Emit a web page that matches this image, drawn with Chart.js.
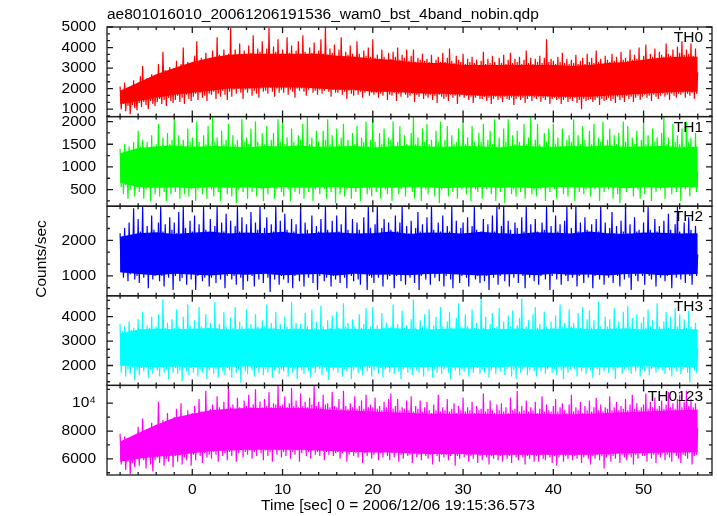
<!DOCTYPE html>
<html>
<head>
<meta charset="utf-8">
<script src="https://cdn.jsdelivr.net/npm/chart.js@4.4.0/dist/chart.umd.min.js"></script>
<style>
  html, body { margin: 0; padding: 0; background: #fff; }
  #wrap { width: 717px; height: 516px; }
</style>
</head>
<body>
<div id="wrap"><canvas id="lc"></canvas></div>
<script>
// time grid of the dense band (2 s) and of the light-curve samples (0.125 s)
var tCore = [-8,-6,-4,-2,0,2,4,6,8,10,12,14,16,18,20,22,24,26,28,30,32,34,36,38,40,42,44,46,48,50,52,54,56];
var tFine = [
  -8,-7.875,-7.75,-7.625,-7.5,-7.375,-7.25,-7.125,-7,-6.875,-6.75,-6.625,-6.5,-6.375,-6.25,-6.125,
  -6,-5.875,-5.75,-5.625,-5.5,-5.375,-5.25,-5.125,-5,-4.875,-4.75,-4.625,-4.5,-4.375,-4.25,-4.125,
  -4,-3.875,-3.75,-3.625,-3.5,-3.375,-3.25,-3.125,-3,-2.875,-2.75,-2.625,-2.5,-2.375,-2.25,-2.125,
  -2,-1.875,-1.75,-1.625,-1.5,-1.375,-1.25,-1.125,-1,-0.875,-0.75,-0.625,-0.5,-0.375,-0.25,-0.125,
  0,0.125,0.25,0.375,0.5,0.625,0.75,0.875,1,1.125,1.25,1.375,1.5,1.625,1.75,1.875,
  2,2.125,2.25,2.375,2.5,2.625,2.75,2.875,3,3.125,3.25,3.375,3.5,3.625,3.75,3.875,
  4,4.125,4.25,4.375,4.5,4.625,4.75,4.875,5,5.125,5.25,5.375,5.5,5.625,5.75,5.875,
  6,6.125,6.25,6.375,6.5,6.625,6.75,6.875,7,7.125,7.25,7.375,7.5,7.625,7.75,7.875,
  8,8.125,8.25,8.375,8.5,8.625,8.75,8.875,9,9.125,9.25,9.375,9.5,9.625,9.75,9.875,
  10,10.125,10.25,10.375,10.5,10.625,10.75,10.875,11,11.125,11.25,11.375,11.5,11.625,11.75,11.875,
  12,12.125,12.25,12.375,12.5,12.625,12.75,12.875,13,13.125,13.25,13.375,13.5,13.625,13.75,13.875,
  14,14.125,14.25,14.375,14.5,14.625,14.75,14.875,15,15.125,15.25,15.375,15.5,15.625,15.75,15.875,
  16,16.125,16.25,16.375,16.5,16.625,16.75,16.875,17,17.125,17.25,17.375,17.5,17.625,17.75,17.875,
  18,18.125,18.25,18.375,18.5,18.625,18.75,18.875,19,19.125,19.25,19.375,19.5,19.625,19.75,19.875,
  20,20.125,20.25,20.375,20.5,20.625,20.75,20.875,21,21.125,21.25,21.375,21.5,21.625,21.75,21.875,
  22,22.125,22.25,22.375,22.5,22.625,22.75,22.875,23,23.125,23.25,23.375,23.5,23.625,23.75,23.875,
  24,24.125,24.25,24.375,24.5,24.625,24.75,24.875,25,25.125,25.25,25.375,25.5,25.625,25.75,25.875,
  26,26.125,26.25,26.375,26.5,26.625,26.75,26.875,27,27.125,27.25,27.375,27.5,27.625,27.75,27.875,
  28,28.125,28.25,28.375,28.5,28.625,28.75,28.875,29,29.125,29.25,29.375,29.5,29.625,29.75,29.875,
  30,30.125,30.25,30.375,30.5,30.625,30.75,30.875,31,31.125,31.25,31.375,31.5,31.625,31.75,31.875,
  32,32.125,32.25,32.375,32.5,32.625,32.75,32.875,33,33.125,33.25,33.375,33.5,33.625,33.75,33.875,
  34,34.125,34.25,34.375,34.5,34.625,34.75,34.875,35,35.125,35.25,35.375,35.5,35.625,35.75,35.875,
  36,36.125,36.25,36.375,36.5,36.625,36.75,36.875,37,37.125,37.25,37.375,37.5,37.625,37.75,37.875,
  38,38.125,38.25,38.375,38.5,38.625,38.75,38.875,39,39.125,39.25,39.375,39.5,39.625,39.75,39.875,
  40,40.125,40.25,40.375,40.5,40.625,40.75,40.875,41,41.125,41.25,41.375,41.5,41.625,41.75,41.875,
  42,42.125,42.25,42.375,42.5,42.625,42.75,42.875,43,43.125,43.25,43.375,43.5,43.625,43.75,43.875,
  44,44.125,44.25,44.375,44.5,44.625,44.75,44.875,45,45.125,45.25,45.375,45.5,45.625,45.75,45.875,
  46,46.125,46.25,46.375,46.5,46.625,46.75,46.875,47,47.125,47.25,47.375,47.5,47.625,47.75,47.875,
  48,48.125,48.25,48.375,48.5,48.625,48.75,48.875,49,49.125,49.25,49.375,49.5,49.625,49.75,49.875,
  50,50.125,50.25,50.375,50.5,50.625,50.75,50.875,51,51.125,51.25,51.375,51.5,51.625,51.75,51.875,
  52,52.125,52.25,52.375,52.5,52.625,52.75,52.875,53,53.125,53.25,53.375,53.5,53.625,53.75,53.875,
  54,54.125,54.25,54.375,54.5,54.625,54.75,54.875,55,55.125,55.25,55.375,55.5,55.625,55.75,55.875,
  56
];

// TH0 (counts/sec): dense band edges and the sampled curve
var th0Hi = [1900,2300,2700,3000,3300,3500,3650,3700,3700,3700,3700,3700,3600,3550,3450,3400,3300,3250,3250,3150,3150,3150,3150,3150,3150,3100,3150,3250,3300,3400,3500,3550,3550];
var th0Lo = [1250,1400,1550,1700,1800,1900,2000,2000,2050,2050,2050,2000,1950,1950,1850,1850,1800,1750,1750,1700,1650,1650,1650,1650,1600,1600,1600,1650,1700,1750,1800,1850,1850];
var th0 = [
  2100,1000,1850,1250,2300,900,1950,1150,2050,750,1800,1200,2400,1050,1900,950,
  2250,1300,2600,1100,3100,1350,2350,1200,2500,1000,2200,1400,2700,1250,2400,1150,
  2650,1350,3200,1500,2750,1250,3800,1450,2900,1150,2600,1550,3050,1400,2800,1300,
  3000,1450,3350,1650,2900,1350,3200,1550,4000,1250,3050,1700,3300,1500,2950,1400,
  3250,1600,3600,1750,4300,1450,3300,1800,3500,1550,3200,1650,3750,1400,3400,1750,
  3450,1700,3850,1850,3550,1500,4500,1750,3650,1600,3400,1900,3900,1700,3600,1450,
  3700,1850,4950,1600,3600,1950,3900,1750,3650,2000,4200,1800,3550,1500,3850,1950,
  3650,1800,4100,2000,3750,1650,4600,1900,3600,1750,3950,1550,3800,2000,4300,1850,
  3700,1900,3950,1750,4950,2050,3650,1850,4050,1600,3800,2000,4400,1800,3600,1950,
  3900,1800,3650,2050,4500,1700,3750,1950,4100,1850,3600,1550,3850,2000,4300,1900,
  3700,2000,4600,1850,3800,1650,3650,1950,4000,2050,3750,1800,4250,1900,3600,1700,
  3850,1950,4400,1750,3700,1900,5000,2000,3650,1850,3950,1600,3750,1950,4150,1800,
  3600,1800,3900,1950,4500,1700,3550,1850,3800,1500,3650,1900,4100,1750,3700,1650,
  3550,1900,4300,1700,3700,1850,3500,1550,3850,1800,3600,1950,4000,1650,3550,1800,
  4400,1700,3500,1800,3650,1550,3450,1750,3900,1650,3550,1850,3400,1450,3750,1700,
  3450,1650,3800,1800,3550,1400,4000,1750,3400,1600,3650,1850,3500,1700,3900,1550,
  3350,1650,3600,1750,3900,1350,3300,1700,3500,1600,3400,1800,3700,1500,3350,1650,
  3450,1550,3300,1700,3650,1450,3250,1650,3400,1300,3550,1700,3300,1600,3750,1500,
  3300,1600,3500,1400,3950,1700,3350,1550,3250,1650,3600,1250,3400,1600,3300,1700,
  3700,1550,3200,1650,3450,1450,3300,1600,3550,1300,3250,1550,3400,1650,3150,1500,
  3350,1500,3800,1600,3200,1400,3450,1550,3250,1250,3600,1500,3300,1600,3150,1450,
  3500,1550,3250,1350,3650,1600,3200,1500,3400,1450,3750,1550,3250,1200,3450,1500,
  3300,1600,3550,1450,3200,1550,3400,1300,3850,1500,3250,1600,3500,1400,3200,1550,
  3450,1500,3300,1600,3600,1350,3250,1550,3500,1450,4400,1600,3300,1250,3450,1500,
  3350,1550,3200,1450,3550,1500,3300,1250,3750,1450,3250,1550,3450,1350,3200,1500,
  3400,1400,3250,1550,3650,1300,3200,1450,3350,1000,3500,1500,3200,1400,3700,1450,
  3300,1500,3500,1350,3250,1450,3850,1550,3300,1200,3450,1500,3200,1400,3600,1450,
  3400,1550,3300,1400,3700,1500,3350,1300,3550,1600,3250,1450,3800,1550,3400,1350,
  3500,1650,3350,1500,3900,1600,3400,1350,3650,1550,3450,1650,4000,1450,3350,1600,
  3600,1700,4150,1550,3450,1650,3700,1400,3550,1700,3950,1600,3500,1500,3800,1650,
  3650,1750,3550,1600,4200,1700,3700,1450,3600,1750,3900,1650,3550,1550,4050,1750,
  3750,1700,4300,1800,3650,1550,3900,1750,3700,1650,4200,1800,3600,1500,3950,1750,
  2800
];

// TH1
var th1Hi = [1300,1420,1450,1470,1440,1460,1450,1430,1460,1450,1470,1440,1450,1460,1430,1450,1470,1450,1440,1460,1450,1430,1470,1450,1440,1460,1450,1470,1440,1450,1460,1430,1450];
var th1Lo = [650,560,540,550,530,560,540,550,530,560,540,550,560,530,550,540,560,550,530,550,560,540,550,530,560,550,540,560,530,550,540,560,550];
var th1 = [
  1400,550,1250,400,1500,600,1300,300,1450,500,1350,650,1550,350,1300,550,
  1800,450,1450,600,1600,300,1400,500,1550,650,1350,250,1700,550,1450,400,
  1500,600,1950,350,1450,550,1650,450,1400,250,1750,600,1500,400,1600,550,
  2050,450,1450,600,1700,300,1500,550,1600,400,1400,650,1850,350,1550,500,
  1650,600,1450,250,2000,500,1550,650,1400,400,1700,550,1500,300,1900,600,
  1450,500,2100,350,1550,600,1650,450,1400,250,1800,550,1500,650,1600,400,
  1950,550,1450,350,1700,600,1500,200,1600,500,1400,650,2050,450,1550,550,
  1650,300,1500,600,1850,450,1400,550,2000,350,1550,650,1450,500,1750,250,
  1500,600,1900,400,1450,550,1600,650,1750,300,1400,500,2050,600,1550,450,
  2000,350,1500,600,1650,500,1400,250,1850,650,1550,450,1450,550,1700,400,
  1600,600,1950,300,1450,550,2100,450,1500,650,1650,250,1400,500,1800,600,
  1550,400,1450,650,1800,500,1600,300,2050,600,1500,450,1700,550,1400,200,
  1850,550,1500,400,1650,650,1950,350,1450,500,1600,600,1400,300,1750,550,
  1500,450,1900,600,1450,250,1650,550,1550,650,2000,400,1450,500,1600,350,
  2050,600,1550,450,1400,550,1750,300,1500,650,1850,500,1450,400,1650,600,
  1600,250,2000,550,1450,600,1550,400,1900,500,1400,650,1700,350,1500,550,
  1450,600,1750,450,2100,300,1500,600,1650,550,1400,250,1850,650,1550,500,
  1950,400,1500,600,1600,550,1400,350,1800,650,1550,200,2000,500,1450,600,
  1600,550,1900,350,1450,650,1700,450,1500,600,1550,300,1850,550,1400,500,
  2000,650,1500,400,1650,550,1450,250,1900,600,1550,500,1400,450,1750,600,
  1550,300,1950,600,1450,500,1600,650,1800,400,1500,550,2050,250,1450,600,
  1650,450,1400,650,1850,200,1550,550,2050,600,1450,400,1700,500,1500,350,
  1800,600,1550,450,1450,650,1950,300,1500,550,1650,600,2100,400,1450,500,
  1600,350,1950,600,1500,500,1400,650,1750,250,1550,550,1850,450,1450,600,
  1950,500,1500,300,1650,600,1450,550,1850,400,1400,650,1600,350,1700,550,
  1550,600,2050,250,1450,550,1700,450,1500,650,1900,400,1600,500,1400,600,
  1800,350,1500,600,1950,500,1450,650,1650,250,1550,550,2000,450,1450,600,
  1600,500,1850,650,1450,300,1700,600,1500,400,1750,200,1400,550,2000,600,
  1550,450,1900,550,1450,650,1650,350,1500,600,1800,500,1450,300,1600,650,
  2000,400,1500,600,1700,550,1450,250,1850,650,1550,450,1650,600,1400,500,
  1750,600,2100,300,1500,550,1650,650,1450,400,1950,550,1550,450,1700,600,
  1500,250,1850,600,1450,500,2000,650,1550,350,1650,550,1400,600,1750,450,
  900
];

// TH2
var th2Hi = [2100,2200,2230,2180,2210,2250,2190,2220,2200,2240,2180,2210,2230,2190,2200,2250,2180,2220,2210,2190,2240,2200,2180,2230,2210,2190,2250,2200,2180,2220,2210,2190,2200];
var th2Lo = [1100,1050,1020,1060,1040,1010,1050,1030,1060,1020,1040,1050,1010,1060,1030,1040,1020,1050,1060,1030,1010,1040,1050,1020,1060,1030,1040,1010,1050,1060,1020,1040,1050];
var th2 = [
  2200,1100,1950,950,2350,1200,2050,850,2500,1050,2150,1150,2900,900,2000,1000,
  2600,800,2250,1100,2960,950,2150,1050,2400,650,2100,1150,2700,900,2300,1000,
  2150,1100,2500,850,2960,1000,2250,700,2450,1150,2100,950,2650,1050,2300,600,
  2500,1000,2200,1150,2800,850,2150,950,2960,1100,2350,750,2100,1050,2550,900,
  2250,1050,2700,600,2200,1000,2450,1150,2100,850,2960,950,2300,1100,2150,700,
  2600,950,2200,1150,2400,800,2960,1050,2150,900,2500,1100,2250,650,2750,1000,
  2200,1100,2550,900,2100,1000,2400,750,2960,1150,2250,950,2650,600,2150,1050,
  2450,850,2200,1100,2800,1000,2150,700,2500,1150,2300,900,2960,1050,2200,800,
  2350,1150,2650,950,2150,550,2450,1050,2250,900,2960,1100,2100,750,2550,1000,
  2200,900,2750,1150,2300,800,2150,1050,2600,650,2250,1000,2450,1100,2100,850,
  2960,1050,2200,700,2500,1150,2300,950,2150,1050,2700,800,2200,1100,2400,600,
  2250,1000,2600,1150,2150,850,2960,950,2300,1100,2200,700,2550,1000,2150,900,
  2700,1050,2250,800,2450,1150,2150,950,2960,650,2300,1100,2100,1000,2600,850,
  2200,1150,2500,900,2300,750,2150,1050,2650,1100,2200,600,2960,1000,2350,950,
  2150,800,2450,1100,2960,950,2200,1050,2350,700,2600,1150,2150,900,2500,1000,
  2300,1100,2150,650,2700,1000,2250,1150,2500,850,2960,1050,2200,750,2400,1100,
  2200,950,2550,1150,2150,800,2350,1050,2800,600,2250,1000,2450,1100,2100,900,
  2650,1050,2200,750,2960,1150,2300,950,2150,1050,2500,850,2250,1100,2700,700,
  2150,1000,2400,1150,2250,900,2960,650,2200,1050,2550,1100,2100,800,2350,1000,
  2500,1150,2200,950,2650,700,2150,1050,2400,1100,2960,900,2300,1000,2150,800,
  2250,1100,2600,850,2150,1000,2450,600,2200,1150,2700,950,2250,1050,2960,750,
  2150,1000,2400,1150,2960,850,2200,1050,2550,700,2300,1100,2150,950,2500,1050,
  2350,800,2150,1100,2650,1000,2250,650,2960,1150,2200,950,2450,1050,2150,850,
  2600,1100,2250,750,2150,1000,2500,1150,2300,900,2960,1050,2200,600,2400,1000,
  2150,1150,2700,900,2250,1050,2450,750,2200,1100,2550,1000,2960,850,2150,1050,
  2350,950,2200,1150,2960,700,2250,1000,2500,1100,2150,800,2650,1050,2300,950,
  2200,1100,2450,650,2150,1000,2600,1150,2250,900,2960,1050,2200,750,2500,1100,
  2150,950,2350,1150,2800,800,2200,1050,2400,1000,2150,700,2550,1100,2250,900,
  2960,1050,2200,950,2450,600,2150,1150,2650,1000,2250,850,2300,1100,2150,1000,
  2500,750,2200,1100,2960,1000,2300,900,2150,1150,2600,700,2250,1050,2400,950,
  2150,1100,2550,850,2200,1000,2750,1150,2300,650,2150,1050,2450,950,2960,1100,
  2250,900,2150,1050,2500,800,2200,1150,2650,1000,2300,750,2150,1100,2400,1000,
  1600
];

// TH3
var th3Hi = [3300,3480,3520,3490,3510,3540,3480,3500,3530,3490,3510,3470,3520,3500,3490,3540,3500,3480,3510,3530,3490,3500,3520,3480,3510,3540,3490,3500,3520,3480,3510,3500,3490];
var th3Lo = [2000,1950,1930,1960,1940,1920,1950,1970,1930,1950,1940,1960,1920,1950,1970,1940,1930,1950,1960,1920,1950,1940,1970,1930,1950,1960,1920,1940,1950,1970,1930,1950,1940];
var th3 = [
  3700,1700,3400,2000,3600,1550,3350,1850,3800,1650,3450,1950,3550,1400,3300,1800,
  3900,1600,3500,1900,4200,1750,3450,2000,3650,1500,3550,1850,4000,1650,3400,1950,
  3600,1800,4100,1550,3500,1950,4700,1700,3550,1850,3750,1450,3450,2000,3900,1700,
  3550,1900,4300,1650,3600,1800,3450,1350,4000,1950,3500,1750,4500,1600,3650,1900,
  3500,1700,3850,1950,3450,1550,4400,1850,3600,1700,3500,2000,4100,1450,3550,1800,
  3750,1950,3450,1650,4600,1850,3550,1500,3700,2000,3450,1750,4200,1600,3600,1900,
  3500,1800,3950,1500,3550,1950,4400,1700,3450,1850,3800,1300,3600,2000,3500,1750,
  4300,1650,3550,1950,3700,1800,3450,1550,4100,1900,3600,1700,3500,2000,3850,1600,
  3600,1850,4500,1700,3450,1950,3750,1500,3550,1800,4200,1950,3500,1650,3700,1850,
  3450,1750,4000,2000,3600,1550,3500,1900,4600,1700,3550,1850,3750,1450,3450,1950,
  3700,1800,3500,1650,4150,2000,3600,1750,3450,1500,4300,1900,3550,1700,3800,1950,
  3500,1850,4450,1600,3600,1950,3450,1750,3850,1400,3550,1900,4050,1800,3500,2000,
  4200,1700,3550,1900,3450,1550,4550,1850,3600,1750,3750,2000,3500,1450,3900,1800,
  3600,1950,3450,1700,4100,1850,3550,1600,3700,2000,4350,1750,3500,1900,3600,1550,
  4400,1800,3500,1950,3650,1650,3450,1900,4150,1500,3550,1850,3750,2000,3500,1700,
  3600,1900,4500,1650,3500,1950,3700,1750,3450,1450,4250,1850,3550,2000,3650,1700,
  3500,1850,3900,1600,4700,1950,3550,1800,3450,1700,3850,2000,3600,1550,4100,1900,
  3550,1750,4300,1950,3450,1500,3650,1850,4000,1700,3500,2000,4400,1650,3600,1850,
  3450,1950,3800,1700,4200,1450,3550,1900,3500,1800,3950,2000,4550,1600,3600,1850,
  3500,1750,4100,1950,3600,1550,3450,1850,4300,1700,3550,2000,3750,1900,3500,1650,
  4800,1850,3550,1700,4000,1950,3450,1500,3700,1800,4150,2000,3550,1650,3600,1900,
  4350,1750,3500,1950,3800,1600,3450,1850,4050,2000,3600,1550,4250,1800,3500,1450,
  3650,1950,3950,1700,4750,1850,3500,2000,3600,1600,3850,1800,3450,1950,4100,1750,
  4400,1550,3550,1900,3700,1750,3450,2000,4200,1650,3600,1850,3500,1950,3800,1700,
  3550,1850,4050,1600,3500,2000,4500,1800,3600,1450,3750,1950,3450,1700,4300,1850,
  3600,2000,3750,1850,3500,1550,4150,1950,3550,1750,4400,1900,3450,1650,3900,2000,
  4250,1800,3550,1500,3850,1950,3500,1850,4600,1600,3600,2000,3450,1750,4000,1900,
  3600,1700,3900,1950,3500,1800,4350,1450,3550,1900,3800,2000,3450,1650,4200,1850,
  3550,1950,4450,1800,3600,1650,3950,2000,3500,1750,4100,1900,3450,1550,3750,1850,
  4000,1750,3550,2000,4300,1600,3600,1850,3850,1950,3500,1700,4550,1850,3600,2000,
  3450,1800,3800,1650,4200,1950,3550,1800,4000,1550,3500,1900,4350,1750,3600,2000,
  4100,1650,3500,1850,3900,1950,3550,1700,4250,1300,3600,1900,3450,1800,3750,1700,
  2700
];

// TH0123
var th4Hi = [7250,7850,8450,8950,9250,9500,9600,9650,9650,9650,9650,9600,9500,9450,9400,9350,9300,9250,9250,9250,9250,9200,9250,9250,9200,9200,9250,9300,9350,9400,9450,9500,9550];
var th4Lo = [5800,6000,6150,6250,6400,6550,6600,6650,6650,6650,6650,6600,6550,6500,6450,6450,6400,6350,6350,6350,6300,6300,6300,6300,6300,6300,6300,6350,6400,6400,6450,6450,6500];
var th4 = [
  7800,5600,7200,6000,7600,5200,7100,5800,7500,4900,7300,5700,7700,5400,7200,6000,
  8300,5500,7700,6100,8900,5900,7800,5300,8100,6200,7900,5600,8600,5100,7800,5900,
  8400,6100,10100,5700,8500,6300,8800,5500,8300,6000,9300,5800,8600,6300,8400,5400,
  9000,6200,9600,5800,8900,6300,10000,5600,9100,6100,8800,5900,9500,6400,9000,5500,
  9300,6300,9800,5900,9200,6500,10300,6200,9400,5700,9100,6400,10900,6100,9300,6300,
  9600,6000,9900,6500,9500,6300,10500,5800,9700,6600,9400,6200,10100,6400,9600,5900,
  11200,6500,9700,6200,9900,6600,9500,5800,10400,6400,9700,6700,9600,6100,10200,6500,
  9800,6300,10600,6600,9700,6000,9900,6500,11000,6200,9600,6700,10100,6400,9700,5900,
  10300,6600,9800,6200,10800,6500,9700,5800,10000,6700,9900,6300,11280,6600,9800,6100,
  9900,6500,10500,6200,9700,6700,10000,6000,11100,6500,9800,6300,10200,6600,9700,5800,
  10700,6400,9800,6700,10100,6200,9700,6500,10400,6000,9900,6600,11280,6300,9800,6500,
  10100,6200,9700,6600,10600,5900,9900,6500,10000,6300,9700,6700,10800,6200,9800,6400,
  9700,6500,10300,6000,9600,6400,10900,6600,9800,5800,9600,6300,10000,6500,9700,6200,
  10500,6400,9600,6100,9800,6600,10200,5700,9600,6400,10600,6200,9700,6500,9900,6000,
  9700,6300,10400,6500,9600,5900,9800,6400,9500,6100,10100,6600,9700,6200,10300,5900,
  10700,6400,9600,6100,9800,6500,10300,5800,9500,6300,9700,6000,9600,6500,10200,6200,
  9500,6300,10500,5700,9400,6400,9800,6100,9600,6300,10200,5900,9400,6400,9700,6200,
  10100,6000,9500,6300,9300,5600,9900,6400,9500,6200,10600,5800,9400,6300,9700,6100,
  9500,6300,10300,5900,9400,6200,9600,6400,10000,5500,9300,6200,9800,6000,9500,6400,
  10400,6100,9400,6300,9700,5800,9500,6200,10100,6000,9300,6400,9800,5700,9500,6200,
  9600,5900,10700,6300,9400,6100,9600,5600,10200,6200,9500,6000,9300,6300,9900,5900,
  9500,6200,10000,5800,9400,6300,9700,6000,9300,6200,10400,5700,9500,6300,9600,6100,
  10900,5900,9400,6300,9800,6100,9500,5600,10200,6200,9400,6000,9700,6300,9500,5800,
  10100,6200,9300,5800,9600,6300,10500,6000,9400,5900,9900,6300,9500,6100,9400,5700,
  9800,6200,10300,5500,9400,6100,9700,6300,10000,5800,9500,6200,9300,6000,9900,6300,
  10600,5900,9400,6200,9700,6000,9500,6300,10100,5700,9300,6100,9800,6300,9500,6000,
  10200,5600,9400,6200,9700,6000,10400,6300,9500,5900,9900,6200,9400,5300,9700,6100,
  9600,6300,10500,5800,9500,6200,9700,6000,10100,6400,9500,5700,9800,6300,9600,6100,
  10300,5900,9500,6300,9900,6100,10600,5600,9600,6300,10000,6000,9500,6400,9700,6200,
  9900,6200,10700,5800,9600,6400,10100,6000,9700,6300,10400,5700,9600,6300,9800,6100,
  10200,6400,9600,5900,9900,6300,10800,6100,9700,5800,10000,6400,9600,6200,10300,6000,
  10600,5700,9700,6300,10100,6200,10900,6000,9800,6400,10300,5600,9700,6200,10000,6300,
  8200
];

var names = ['TH0', 'TH1', 'TH2', 'TH3', 'TH0123'];
var colors = ['#ff0000', '#00ff00', '#0000ff', '#00ffff', '#ff00ff'];
var yMin = [637, 134, 440, 1184, 4840];
var yMax = [5000, 2110, 2960, 4857, 11280];
var yTicks = [[1000, 2000, 3000, 4000, 5000], [500, 1000, 1500, 2000], [1000, 2000], [2000, 3000, 4000], [6000, 8000, 10000]];
var yMajor = [1000, 500, 1000, 1000, 2000];
var ySub = [3, 2, 3, 3, 2];
var xTicks = [0, 10, 20, 30, 40, 50];

var hiSets = [th0Hi, th1Hi, th2Hi, th3Hi, th4Hi];
var loSets = [th0Lo, th1Lo, th2Lo, th3Lo, th4Lo];
var lcSets = [th0, th1, th2, th3, th4];

lcSets.forEach(function (s, i) {
  if (s.length !== tFine.length) throw new Error(names[i] + ' has ' + s.length + ' points, expected ' + tFine.length);
  if (hiSets[i].length !== tCore.length || loSets[i].length !== tCore.length) throw new Error(names[i] + ' band length');
});

var FONT = '"Liberation Sans", Arial, Helvetica, sans-serif';

function pts(ts, vs) {
  return ts.map(function (t, i) { return { x: t, y: vs[i] }; });
}

var datasets = [];
var scales = {
  x: {
    type: 'linear', position: 'bottom', min: -9.45, max: 57.58,
    grid: { display: false, drawTicks: false }, border: { display: false },
    afterBuildTicks: function (s) { s.ticks = xTicks.map(function (v) { return { value: v }; }); },
    ticks: {
      autoSkip: false, maxRotation: 0,
      color: '#000', font: { family: FONT, size: 15.5 }, padding: 5,
      callback: function (v) { return String(v); }
    },
    afterFit: function (s) { s.height = 41; }
  }
};

names.forEach(function (n, i) {
  var id = 'y' + i;
  datasets.push({
    label: n + ' hi', yAxisID: id, data: pts(tCore, hiSets[i]),
    fill: '+1', backgroundColor: colors[i], borderColor: 'transparent',
    borderWidth: 0, pointRadius: 0
  });
  datasets.push({
    label: n + ' lo', yAxisID: id, data: pts(tCore, loSets[i]),
    fill: false, borderColor: 'transparent', borderWidth: 0, pointRadius: 0
  });
  datasets.push({
    label: n, yAxisID: id, data: pts(tFine, lcSets[i]),
    fill: false, borderColor: colors[i], borderWidth: 1.2, pointRadius: 0
  });
  scales[id] = {
    type: 'linear', position: 'left', stack: 'lc', stackWeight: 1, weight: 5 - i,
    min: yMin[i], max: yMax[i],
    grid: { display: false, drawTicks: false }, border: { display: false },
    afterBuildTicks: function (s) { s.ticks = yTicks[i].map(function (v) { return { value: v }; }); },
    ticks: {
      autoSkip: false,
      color: '#000', font: { family: FONT, size: 15.5 }, padding: 11,
      callback: function (v) { return v === 10000 ? '10\u2074' : String(v); }
    },
    afterFit: function (s) { s.width = 107; }
  };
});

var decor = {
  id: 'decor',
  afterDatasetsDraw: function (chart) {
    var ctx = chart.ctx, a = chart.chartArea, xs = chart.scales.x;
    ctx.save();
    ctx.strokeStyle = '#1a1a1a';
    ctx.lineWidth = 1.3;
    names.forEach(function (n, i) {
      var s = chart.scales['y' + i];
      var top = s.top, bot = s.bottom;
      ctx.strokeRect(a.left, top, a.right - a.left, bot - top);
      ctx.beginPath();
      for (var t = -8; t <= 56; t += 2) {
        var px = xs.getPixelForValue(t);
        var len = (t % 10 === 0) ? 6 : 3;
        ctx.moveTo(px, top); ctx.lineTo(px, top + len);
        ctx.moveTo(px, bot); ctx.lineTo(px, bot - len);
      }
      var step = yMajor[i] / ySub[i];
      for (var k = Math.ceil(yMin[i] / step); k * step <= yMax[i] + 1e-6; k++) {
        var py = s.getPixelForValue(k * step);
        var l2 = (k % ySub[i] === 0) ? 6 : 3;
        ctx.moveTo(a.left, py); ctx.lineTo(a.left + l2, py);
        ctx.moveTo(a.right, py); ctx.lineTo(a.right - l2, py);
      }
      ctx.stroke();
      ctx.fillStyle = '#000';
      ctx.font = '15.5px ' + FONT;
      ctx.textAlign = 'right';
      ctx.textBaseline = 'middle';
      ctx.fillText(n, 703, top + 11);
    });
    ctx.font = '15.5px ' + FONT;
    ctx.fillStyle = '#000';
    ctx.textAlign = 'left';
    ctx.textBaseline = 'middle';
    ctx.fillText('ae801016010_20061206191536_wam0_bst_4band_nobin.qdp', 107, 15);
    ctx.textAlign = 'center';
    ctx.fillText('Time [sec] 0 = 2006/12/06 19:15:36.573', 398, 506);
    ctx.translate(42, 259);
    ctx.rotate(-Math.PI / 2);
    ctx.fillText('Counts/sec', 0, 0);
    ctx.restore();
  }
};

new Chart(document.getElementById('lc'), {
  type: 'line',
  data: { datasets: datasets },
  options: {
    responsive: true,
    maintainAspectRatio: false,
    animation: false,
    layout: { padding: { top: 27, right: 5, left: 0, bottom: 0 } },
    plugins: { legend: { display: false }, tooltip: { enabled: false }, title: { display: false } },
    scales: scales
  },
  plugins: [decor]
});
</script>
</body>
</html>
